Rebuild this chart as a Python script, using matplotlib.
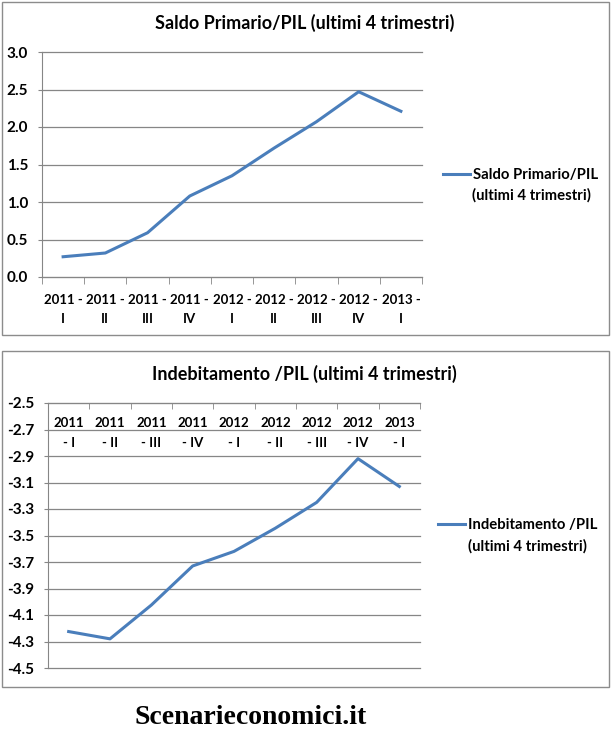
import matplotlib
matplotlib.use('Agg')
import matplotlib.pyplot as plt
from matplotlib.patches import Rectangle
from matplotlib.ticker import FormatStrFormatter

# data
quarters = ['I', 'II', 'III', 'IV', 'I', 'II', 'III', 'IV', 'I']
years = ['2011', '2011', '2011', '2011', '2012', '2012', '2012', '2012', '2013']
saldo_primario = [0.27, 0.32, 0.59, 1.08, 1.35, 1.72, 2.07, 2.47, 2.21]
indebitamento = [-4.225, -4.28, -4.025, -3.73, -3.62, -3.445, -3.25, -2.92, -3.13]
saldo_ticks = [0.0, 0.5, 1.0, 1.5, 2.0, 2.5, 3.0]
indeb_ticks = [-2.5, -2.7, -2.9, -3.1, -3.3, -3.5, -3.7, -3.9, -4.1, -4.3, -4.5]

title_top = 'Saldo Primario/PIL (ultimi 4 trimestri)'
title_bot = 'Indebitamento /PIL (ultimi 4 trimestri)'
leg_top = ['Saldo Primario/PIL', '(ultimi 4 trimestri)']
leg_bot = ['Indebitamento /PIL', '(ultimi 4 trimestri)']

plt.rcParams['font.family'] = ['Lato', 'DejaVu Sans']
plt.rcParams['font.weight'] = 'bold'

W, H = 612, 744
LINE = '#4A7EBB'
GRID = '#868686'
LEG_SIZE = 10.7

fig = plt.figure(figsize=(W / 100, H / 100), dpi=100)


def fx(px):
    return px / W


def fy(py):
    return 1 - py / H


# chart borders
for (x0, y0, x1, y1) in [(2, 2, 609, 335), (2, 351, 609, 687)]:
    fig.patches.append(Rectangle((fx(x0), fy(y1)), fx(x1 - x0), (y1 - y0) / H,
                                 transform=fig.transFigure, fill=False,
                                 edgecolor='#8c8c8c', linewidth=1.0))

xs = list(range(len(quarters)))


def style_axes(ax, ticks, fmt):
    ax.set_xlim(-0.5, len(xs) - 0.5)
    ax.set_yticks(ticks)
    ax.yaxis.set_major_formatter(FormatStrFormatter(fmt))
    ax.grid(axis='y', color=GRID, linewidth=0.9)
    for gl in ax.get_ygridlines():
        gl.set_clip_on(False)
    ax.set_axisbelow(True)
    for s in ['top', 'right', 'bottom', 'left']:
        ax.spines[s].set_visible(False)
    ax.spines['left'].set_visible(True)
    ax.spines['left'].set_color(GRID)
    ax.tick_params(axis='y', length=3, color=GRID, pad=7, labelsize=11)
    for lab in ax.get_yticklabels():
        lab.set_fontweight('bold')


def add_legend(ax, lines, x, y):
    # first line goes in the legend, second line is written under it
    ax.legend([ax.lines[0]], [lines[0]], loc='upper left',
              bbox_to_anchor=(fx(x), fy(y)), bbox_transform=fig.transFigure,
              frameon=False, borderpad=0, borderaxespad=0,
              handlelength=1.85, handletextpad=0.15,
              prop={'size': LEG_SIZE, 'weight': 'bold'})


# ---- top chart ----
ax1 = fig.add_axes([fx(42), fy(277), fx(422 - 42), (277 - 52) / H])
ax1.plot(xs, saldo_primario, color=LINE, linewidth=2.2)
ax1.set_ylim(0, 3.0)
style_axes(ax1, saldo_ticks, '%.1f')
ax1.spines['bottom'].set_visible(True)
ax1.spines['bottom'].set_color(GRID)
ax1.set_xticks([i - 0.5 for i in range(len(xs) + 1)], minor=True)
ax1.set_xticks(xs)
ax1.set_xticklabels([y + ' -\n' + q for y, q in zip(years, quarters)],
                    fontsize=9.5, fontweight='bold', linespacing=1.75)
ax1.tick_params(axis='x', which='major', length=0, pad=12)
ax1.tick_params(axis='x', which='minor', length=5, color=GRID, direction='out')
fig.text(fx(305), fy(23), title_top, ha='center', va='center',
         fontsize=13, fontweight='bold')
add_legend(ax1, leg_top, 443, 168)
fig.text(fx(472), fy(195), leg_top[1], ha='left', va='center',
         fontsize=LEG_SIZE, fontweight='bold')

# ---- bottom chart ----
ax2 = fig.add_axes([fx(48), fy(668), fx(420 - 48), (668 - 403) / H])
ax2.plot(xs, indebitamento, color=LINE, linewidth=2.2)
ax2.set_ylim(-4.5, -2.5)
style_axes(ax2, indeb_ticks, '%.1f')
ax2.spines['top'].set_visible(True)
ax2.spines['top'].set_color(GRID)
ax2.xaxis.tick_top()
ax2.set_xticks([i - 0.5 for i in range(len(xs) + 1)], minor=True)
ax2.set_xticks(xs)
ax2.set_xticklabels([])
ax2.tick_params(axis='x', which='major', length=0)
ax2.tick_params(axis='x', which='minor', top=True, bottom=False, length=4,
                color=GRID, direction='in')
for i in xs:
    ax2.text(i, 0.887, years[i] + '\n- ' + quarters[i], transform=ax2.get_xaxis_transform(),
             ha='center', va='center', fontsize=9.5, fontweight='bold', linespacing=1.75)
fig.text(fx(304), fy(374), title_bot, ha='center', va='center',
         fontsize=13, fontweight='bold')
add_legend(ax2, leg_bot, 438, 518)
fig.text(fx(468), fy(546), leg_bot[1], ha='left', va='center',
         fontsize=LEG_SIZE, fontweight='bold')

# site name
fig.text(fx(251), fy(718), 'Scenarieconomici.it', ha='center', va='center',
         fontsize=20, fontweight='bold', family=['Liberation Serif', 'DejaVu Serif'])

fig.savefig('out.png', dpi=100)
